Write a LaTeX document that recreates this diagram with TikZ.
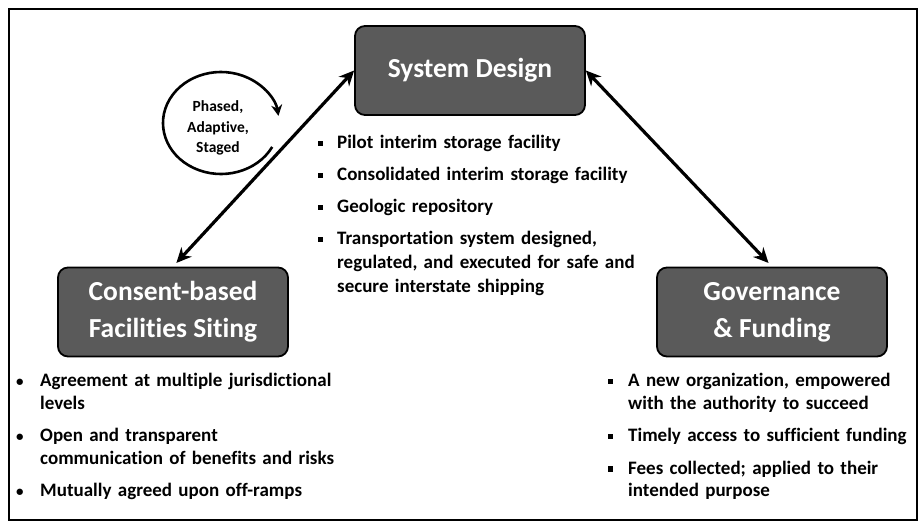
\documentclass[tikz,border=0pt]{standalone}
\usepackage{fontspec}
\setmainfont{Carlito}[Ligatures=NoCommon]
\usetikzlibrary{arrows.meta}
\definecolor{boxgray}{HTML}{5A5A5A}
% square and round list marks
\newcommand{\sqmark}{\rule[0.13em]{0.27em}{0.27em}}
\newcommand{\rdmark}{{\fontsize{15}{15}\selectfont •}}
% one list entry with a hanging indent: width of mark column, mark, text
\newcommand{\entry}[3]{\noindent\hangindent=#1\hangafter=1\makebox[#1][l]{#2}#3\par}

\begin{document}
\begin{tikzpicture}[x=1pt,y=-1pt,
  hub/.style={draw=black, line width=1.8pt, rounded corners=10pt, fill=boxgray,
    text=white, font=\bfseries\fontsize{27.5}{37}\selectfont, align=center,
    minimum width=230pt, minimum height=89pt, inner sep=0pt},
  notes/.style={anchor=north west, inner sep=0pt, text width=#1, align=left,
    font=\bfseries\fontsize{19}{24}\selectfont},
  link/.style={line width=3.2pt,
    {Stealth[length=15pt,width=14pt]}-{Stealth[length=15pt,width=14pt]}},
  loop arrow/.style={line width=2.6pt, -{Stealth[length=11pt,width=11pt]}},
  looplabel/.style={font=\bfseries\fontsize{15.5}{20.5}\selectfont, align=center, inner sep=0pt}
]
\useasboundingbox (0,0) rectangle (922,525);

% outer frame
\draw[line width=1.6pt] (9,9) rectangle (917,520);

% the three main blocks
\node[hub] (sys)  at (470,70.5) {System Design};
\node[hub] (cons) at (173,312)  {Consent-based\\Facilities Siting};
\node[hub] (gov)  at (772,312)  {Governance\\\& Funding};

% two-way links
\draw[link, shorten >=5pt] (sys.west) -- (cons.north);
\draw[link, shorten >=5pt] (sys.east) -- (gov.north);

% cycle around the process label
\node[looplabel] (cyc) at (218,128) {Phased,\\Adaptive,\\Staged};
\coordinate (loopc) at (221,123);
\draw[loop arrow] (loopc) ++(28:58 and 51)
  arc[start angle=28, end angle=352, x radius=58, y radius=51];

% bullet lists
\node[notes=320pt] (sdlist) at (317.5,135) {\setlength{\parskip}{8pt}%
  \entry{19.5pt}{\sqmark}{Pilot interim storage facility}
  \entry{19.5pt}{\sqmark}{Consolidated interim storage facility}
  \entry{19.5pt}{\sqmark}{Geologic repository}
  \entry{19.5pt}{\sqmark}{Transportation system designed,\newline regulated, and executed for safe and\newline secure interstate shipping}};

\node[notes=330pt, font=\bfseries\fontsize{19}{22.5}\selectfont] (cslist) at (16,373) {\setlength{\parskip}{10pt}%
  \entry{24pt}{\rdmark}{Agreement at multiple jurisdictional\newline levels}
  \entry{24pt}{\rdmark}{Open and transparent\newline communication of benefits and risks}
  \entry{24pt}{\rdmark}{Mutually agreed upon off-ramps}};

\node[notes=300pt, font=\bfseries\fontsize{19}{22.5}\selectfont] (gflist) at (607.5,373) {\setlength{\parskip}{10pt}%
  \entry{20.5pt}{\sqmark}{A new organization, empowered\newline with the authority to succeed}
  \entry{20.5pt}{\sqmark}{Timely access to sufficient funding}
  \entry{20.5pt}{\sqmark}{Fees collected; applied to their\newline intended purpose}};
\end{tikzpicture}
\end{document}
